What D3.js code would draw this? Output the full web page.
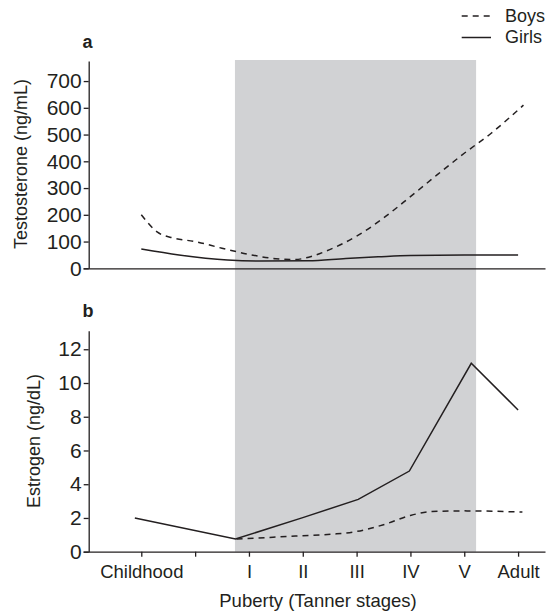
<!DOCTYPE html>
<html>
<head>
<meta charset="utf-8">
<script src="https://cdn.jsdelivr.net/npm/d3@7"></script>
<style>
  html, body { margin: 0; padding: 0; background: #fff; }
  svg { display: block; font-family: "Liberation Sans", Arial, Helvetica, sans-serif; }
  text { fill: #231f20; }
</style>
</head>
<body>
<svg id="chart" width="552" height="612"></svg>
<script>
// ---- data ----
const stageLabels = ["Childhood", "", "I", "II", "III", "IV", "V", "Adult"];
const stagePositions = [0, 1, 2, 3, 4, 5, 6, 7];
const pubertySpan = [1.74, 6.22];

const testosteroneTicks = [0, 100, 200, 300, 400, 500, 600, 700];
const estrogenTicks = [0, 2, 4, 6, 8, 10, 12];

// [stage position, ng/mL]
const testosteroneBoys = [
  [0, 200], [0.3, 135], [0.6, 113], [1, 100], [1.5, 75], [2, 52], [2.5, 36],
  [2.85, 33], [3.2, 47], [3.5, 70], [4, 120], [4.5, 188], [5, 268], [5.5, 350],
  [6, 430], [6.5, 505], [7.1, 610]
];
const testosteroneGirls = [
  [0, 72], [0.7, 50], [1.6, 31], [2.2, 27], [3.1, 28], [3.8, 37], [4.4, 43],
  [5, 48], [6, 50], [7, 50]
];
// [stage position, ng/dL]
const estrogenBoys = [
  [1.77, 0.75], [3, 0.95], [3.6, 1.05], [4, 1.2], [4.5, 1.6], [5, 2.15],
  [5.4, 2.38], [6, 2.42], [7.08, 2.35]
];
const estrogenGirls = [
  [-0.12, 2.0], [1.75, 0.75], [3, 2.02], [4.03, 3.1], [4.98, 4.78], [6.13, 11.17], [7, 8.4]
];

// ---- layout ----
const ink = "#231f20";
const svg = d3.select("#chart");

const x = d3.scaleLinear().domain([-1.083, 7.5]).range([83, 545]);
const axisX = 88.7;

const yTop = d3.scaleLinear().domain([0, 775]).range([268.3, 61]);
const yBot = d3.scaleLinear().domain([0, 13.1]).range([551.7, 330.7]);

// shaded puberty band
svg.append("rect")
  .attr("x", x(pubertySpan[0]))
  .attr("y", 60)
  .attr("width", x(pubertySpan[1]) - x(pubertySpan[0]))
  .attr("height", yBot(0) - 60)
  .attr("fill", "#d1d2d4");

function styleAxis(size) {
  return g => {
    g.selectAll("path, line").attr("stroke", ink).attr("stroke-width", 1.3);
    g.selectAll("text").attr("fill", ink)
      .style("font-family", "'Liberation Sans', Arial, Helvetica, sans-serif")
      .style("font-size", size + "px");
  };
}

// ---- top panel ----
svg.append("g").attr("transform", `translate(${axisX},0)`)
  .call(d3.axisLeft(yTop).tickValues(testosteroneTicks).tickSize(5).tickPadding(2).tickSizeOuter(0))
  .call(styleAxis(21));

// zero baseline for top panel
svg.append("g").attr("transform", `translate(0,${yTop(0)})`)
  .call(d3.axisBottom(x).tickValues([]).tickSizeOuter(0))
  .call(styleAxis(18));

const lineTop = d3.line().x(d => x(d[0])).y(d => yTop(d[1])).curve(d3.curveMonotoneX);
svg.append("path").datum(testosteroneGirls).attr("d", lineTop)
  .attr("fill", "none").attr("stroke", ink).attr("stroke-width", 1.5);
svg.append("path").datum(testosteroneBoys).attr("d", lineTop)
  .attr("fill", "none").attr("stroke", ink).attr("stroke-width", 1.5)
  .attr("stroke-dasharray", "6,5");

svg.append("text").attr("x", 82.5).attr("y", 48)
  .style("font-size", "18px").style("font-weight", "bold").text("a");
svg.append("text")
  .attr("transform", `translate(27,164) rotate(-90)`)
  .attr("text-anchor", "middle").style("font-size", "18px")
  .text("Testosterone (ng/mL)");

// ---- bottom panel ----
svg.append("g").attr("transform", `translate(${axisX},0)`)
  .call(d3.axisLeft(yBot).tickValues(estrogenTicks).tickSize(5).tickPadding(2).tickSizeOuter(0))
  .call(styleAxis(21));

svg.append("g").attr("transform", `translate(0,${yBot(0)})`)
  .call(d3.axisBottom(x).tickValues(stagePositions).tickSize(5).tickPadding(8).tickSizeOuter(0)
    .tickFormat((d, i) => stageLabels[i]))
  .call(styleAxis(18.5));

const lineBotSmooth = d3.line().x(d => x(d[0])).y(d => yBot(d[1])).curve(d3.curveMonotoneX);
const lineBotLinear = d3.line().x(d => x(d[0])).y(d => yBot(d[1]));
svg.append("path").datum(estrogenBoys).attr("d", lineBotSmooth)
  .attr("fill", "none").attr("stroke", ink).attr("stroke-width", 1.5)
  .attr("stroke-dasharray", "6,5");
svg.append("path").datum(estrogenGirls).attr("d", lineBotLinear)
  .attr("fill", "none").attr("stroke", ink).attr("stroke-width", 1.5)
  .attr("stroke-linejoin", "miter");

svg.append("text").attr("x", 82.5).attr("y", 317)
  .style("font-size", "18px").style("font-weight", "bold").text("b");
svg.append("text")
  .attr("transform", `translate(39.5,441) rotate(-90)`)
  .attr("text-anchor", "middle").style("font-size", "18px")
  .text("Estrogen (ng/dL)");

svg.append("text").attr("x", 318).attr("y", 607)
  .attr("text-anchor", "middle").style("font-size", "18.5px")
  .text("Puberty (Tanner stages)");

// ---- legend ----
const legendItems = [
  { name: "Boys", dash: "6,5", y: 16, ty: 22 },
  { name: "Girls", dash: null, y: 37.5, ty: 43 }
];
const lg = svg.append("g");
legendItems.forEach(it => {
  lg.append("line").attr("x1", 461.7).attr("x2", 491).attr("y1", it.y).attr("y2", it.y)
    .attr("stroke", ink).attr("stroke-width", 1.5)
    .attr("stroke-dasharray", it.dash);
  lg.append("text").attr("x", 505).attr("y", it.ty).style("font-size", "18px").text(it.name);
});
</script>
</body>
</html>
